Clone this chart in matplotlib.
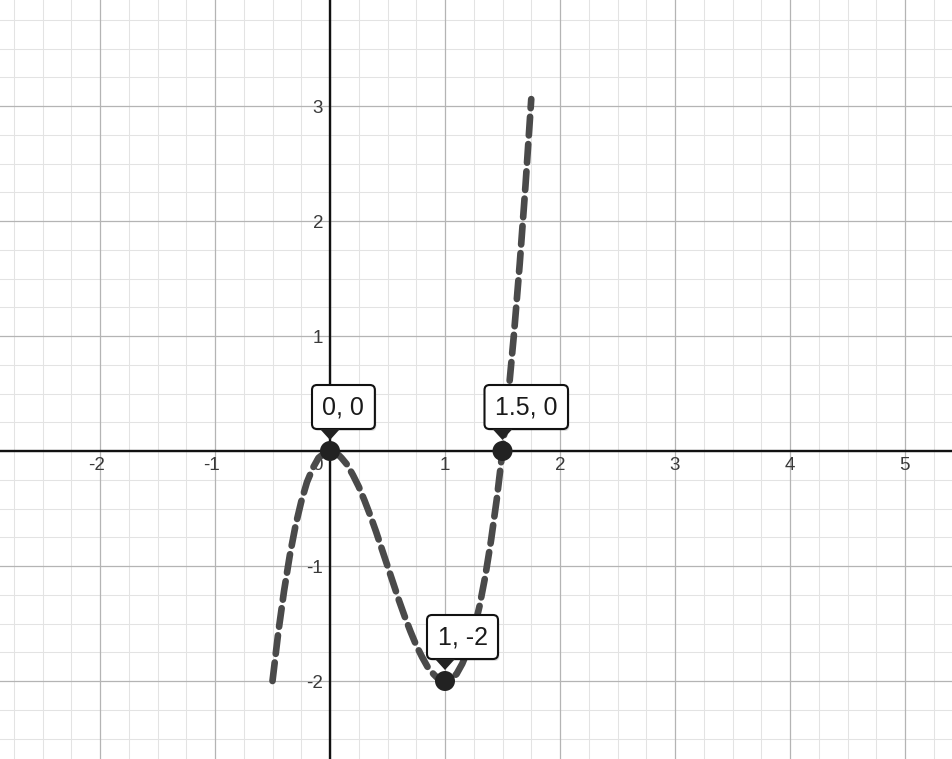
import matplotlib
matplotlib.use("Agg")
import matplotlib.pyplot as plt
from matplotlib.patches import FancyBboxPatch, Polygon, Circle
from matplotlib.transforms import IdentityTransform
import numpy as np

# ---- data ----
curve_x = [-0.5, -0.45, -0.4, -0.35, -0.3, -0.25, -0.2, -0.15, -0.1, -0.05,
           0.0, 0.05, 0.1, 0.15, 0.2, 0.25, 0.3, 0.35, 0.4, 0.45, 0.5, 0.55,
           0.6, 0.65, 0.7, 0.75, 0.8, 0.85, 0.9, 0.95, 1.0, 1.05, 1.1, 1.15,
           1.2, 1.25, 1.3, 1.35, 1.4, 1.45, 1.5, 1.55, 1.6, 1.65, 1.7, 1.75]
curve_y = [-2.0, -1.58, -1.22, -0.91, -0.65, -0.44, -0.27, -0.15, -0.06, -0.02,
           0.0, -0.01, -0.06, -0.12, -0.21, -0.31, -0.43, -0.56, -0.70, -0.85,
           -1.0, -1.15, -1.30, -1.44, -1.57, -1.69, -1.79, -1.88, -1.94, -1.99,
           -2.0, -1.98, -1.94, -1.85, -1.73, -1.56, -1.35, -1.09, -0.78, -0.42,
           0.0, 0.48, 1.02, 1.63, 2.31, 3.06]
point_x = [0, 1, 1.5]
point_y = [0, -2, 0]
point_labels = ["0, 0", "1, -2", "1.5, 0"]
x_tick_vals = [-2, -1, 1, 2, 3, 4, 5]
y_tick_vals = [-2, -1, 1, 2, 3]

W, H, DPI = 952, 759, 100
fig = plt.figure(figsize=(W / DPI, H / DPI), dpi=DPI)
ax = fig.add_axes([0, 0, 1, 1])
ppu = 115.0
ax.set_xlim(-330 / ppu, (W - 330) / ppu)
ax.set_ylim(-(H - 451) / ppu, 451 / ppu)
ax.set_axis_off()

# grid
for v in np.arange(-3, 6.01, 0.25):
    major = abs(v - round(v)) < 1e-9
    ax.axvline(v, color="#b4b4b4" if major else "#e3e3e3", lw=0.9 if major else 0.75, zorder=1 if major else 0.5)
for v in np.arange(-3, 4.01, 0.25):
    major = abs(v - round(v)) < 1e-9
    ax.axhline(v, color="#b4b4b4" if major else "#e3e3e3", lw=0.9 if major else 0.75, zorder=1 if major else 0.5)
ax.axhline(0, color="#111111", lw=1.7, zorder=2)
ax.axvline(0, color="#111111", lw=1.7, zorder=2)

px = 1 / ppu
lab_kw = dict(fontsize=13.5, color="#3a3a3a", family="Liberation Sans", zorder=3)
for k in x_tick_vals:
    ax.text(k + 5 * px, -19 * px, str(k), ha="right", va="baseline", **lab_kw)
ax.text(-7 * px, -19 * px, "0", ha="right", va="baseline", **lab_kw)
for k in y_tick_vals:
    ax.text(-7 * px, k - 7 * px, str(k), ha="right", va="baseline", **lab_kw)

# curve
ax.plot(curve_x, curve_y, color="#4a4a4a", lw=4.8, zorder=4,
        linestyle=(0, (2.8, 1.3)), dash_capstyle="round", solid_capstyle="round")

fig.canvas.draw()
renderer = fig.canvas.get_renderer()
ident = IdentityTransform()
for x, y, lab in zip(point_x, point_y, point_labels):
    dx, dy = ax.transData.transform((x, y))
    ax.add_patch(Circle((dx, dy), 10, transform=ident, facecolor="#222222",
                        edgecolor="none", zorder=6))
    t = ax.text(dx - 7.5, dy + 44, lab, transform=ident, ha="left", va="center",
                fontsize=18, color="#1a1a1a", family="Liberation Sans", zorder=9)
    bb = t.get_window_extent(renderer)
    w = bb.width + 21
    ax.add_patch(FancyBboxPatch((dx - 18 + 1.5, dy + 22 - 2), w, 44, transform=ident,
                                boxstyle="round,pad=0,rounding_size=5",
                                facecolor="#00000022", edgecolor="none", zorder=7))
    ax.add_patch(FancyBboxPatch((dx - 18, dy + 22), w, 44, transform=ident,
                                boxstyle="round,pad=0,rounding_size=5",
                                facecolor="white", edgecolor="#111111", lw=1.5, zorder=8))
    ax.add_patch(Polygon([(dx - 10, dy + 22), (dx + 10, dy + 22), (dx, dy + 11)],
                         closed=True, transform=ident, facecolor="#222222",
                         edgecolor="none", zorder=8))

fig.savefig("out.png", dpi=DPI)
